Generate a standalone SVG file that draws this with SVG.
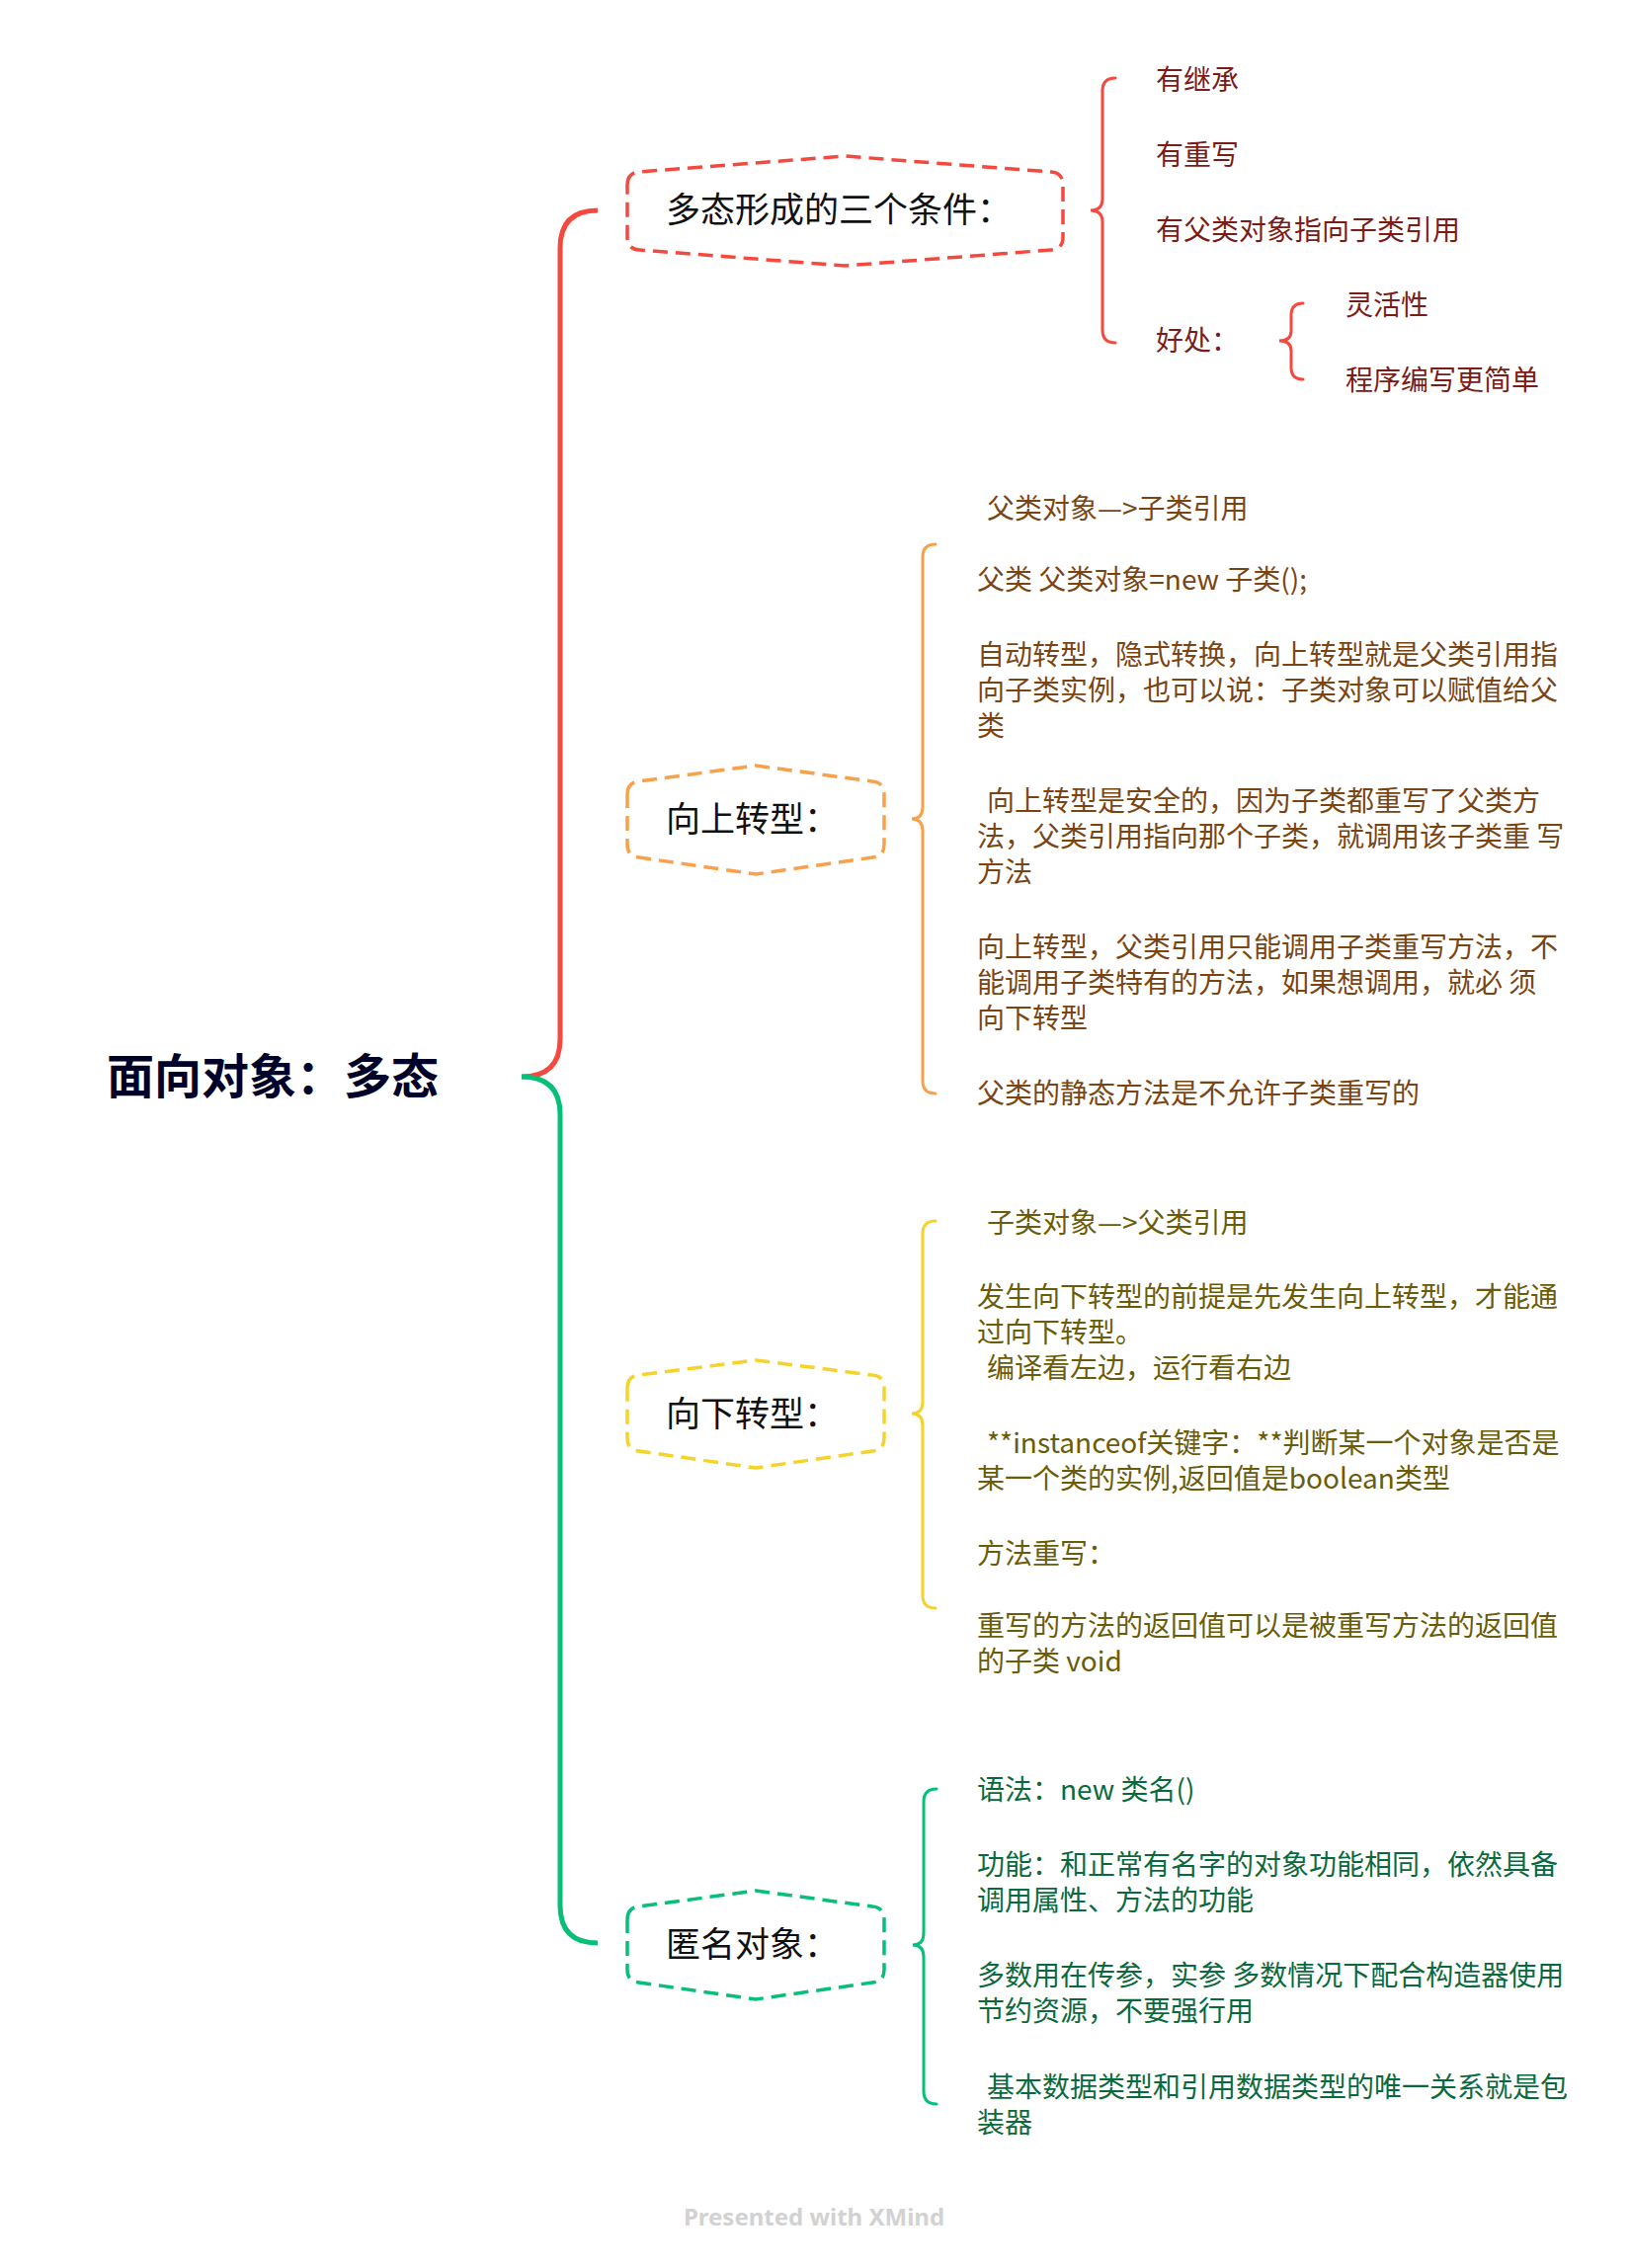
<svg xmlns="http://www.w3.org/2000/svg" width="1650" height="2296" viewBox="0 0 1650 2296">
<style>
.t{font-family:"Noto Sans CJK SC","Noto Sans",sans-serif;}
.root{font-size:48px;font-weight:700;fill:#000229;}
.nt{font-size:35px;fill:#111111;}
.s{font-size:28px;}
.cr{fill:#7A1C17;}
.co{fill:#7A4512;}
.cy{fill:#6A5C08;}
.cg{fill:#0B6A3D;}
.hex{fill:#ffffff;stroke-width:3.5;stroke-dasharray:15 8;stroke-linejoin:round;}
.br{fill:none;stroke-width:3;stroke-linecap:round;}
.conn{fill:none;stroke-width:5;}
</style>
<rect width="1650" height="2296" fill="#ffffff"/>
<g id="connectors">
<path class="conn" stroke="#F5493F" d="M528,1090 Q567,1090 567,1052 L567,251 Q567,213 605,213"/>
<path class="conn" stroke="#07BF78" d="M528,1090 Q567,1090 567,1128 L567,1929 Q567,1967 605,1967"/>
<path class="br" stroke="#F5493F" d="M1129,79 Q1116,79 1116,92 L1116,201 Q1116,213 1104,213 Q1116,213 1116,225 L1116,334 Q1116,347 1129,347"/>
<path class="br" stroke="#F5493F" d="M1319,307 Q1307,307 1307,319 L1307,335 Q1307,345 1295,345 Q1307,345 1307,355 L1307,372 Q1307,384 1319,384"/>
<path class="br" stroke="#F9A04B" d="M947,551 Q934,551 934,564 L934,817 Q934,829 923,829 Q934,829 934,841 L934,1094 Q934,1107 947,1107"/>
<path class="br" stroke="#F6D32A" d="M947,1236 Q934,1236 934,1249 L934,1419 Q934,1431 923,1431 Q934,1431 934,1443 L934,1615 Q934,1628 947,1628"/>
<path class="br" stroke="#07BF78" d="M948,1811 Q935,1811 935,1824 L935,1957 Q935,1969 924,1969 Q935,1969 935,1981 L935,2117 Q935,2130 948,2130"/>
</g>
<g id="root">
<text class="t root" x="108" y="1107">面向对象：多态</text>
</g>
<g id="node-conditions">
<path class="hex" stroke="#F5493F" d="M635,187 Q635,175 647,174 L855,158 L1064,174 Q1076,175 1076,187 L1076,240 Q1076,252 1064,253 L855,269 L647,253 Q635,252 635,240 Z"/>
<text class="t nt" x="674" y="225">多态形成的三个条件：</text>
</g>
<g id="node-conditions-children">
<text class="t s cr" x="1170" y="91">有继承</text>
<text class="t s cr" x="1170" y="167">有重写</text>
<text class="t s cr" x="1170" y="243">有父类对象指向子类引用</text>
<text class="t s cr" x="1170" y="355">好处：</text>
<text class="t s cr" x="1362" y="319">灵活性</text>
<text class="t s cr" x="1362" y="395">程序编写更简单</text>
</g>
<g id="node-upcast">
<path class="hex" stroke="#F9A04B" d="M635,804 Q635,792 647,791 L765,775 L883,791 Q895,792 895,804 L895,855 Q895,867 883,868 L765,885 L647,868 Q635,867 635,855 Z"/>
<text class="t nt" x="674" y="842">向上转型：</text>
</g>
<g id="node-upcast-children">
<text class="t s co" x="999" y="525">父类对象—&gt;子类引用</text>
<text class="t s co" x="989" y="597">父类 父类对象=new 子类();</text>
<text class="t s co" x="989" y="673">自动转型，隐式转换，向上转型就是父类引用指</text>
<text class="t s co" x="989" y="709">向子类实例，也可以说：子类对象可以赋值给父</text>
<text class="t s co" x="989" y="745">类</text>
<text class="t s co" x="999" y="821">向上转型是安全的，因为子类都重写了父类方</text>
<text class="t s co" x="989" y="857" xml:space="preserve">法，父类引用指向那个子类，就调用该子类重 写</text>
<text class="t s co" x="989" y="893">方法</text>
<text class="t s co" x="989" y="969">向上转型，父类引用只能调用子类重写方法，不</text>
<text class="t s co" x="989" y="1005" xml:space="preserve">能调用子类特有的方法，如果想调用，就必 须</text>
<text class="t s co" x="989" y="1041">向下转型</text>
<text class="t s co" x="989" y="1117">父类的静态方法是不允许子类重写的</text>
</g>
<g id="node-downcast">
<path class="hex" stroke="#F6D32A" d="M635,1405 Q635,1393 647,1392 L765,1377 L883,1392 Q895,1393 895,1405 L895,1456 Q895,1468 883,1469 L765,1486 L647,1469 Q635,1468 635,1456 Z"/>
<text class="t nt" x="674" y="1444">向下转型：</text>
</g>
<g id="node-downcast-children">
<text class="t s cy" x="999" y="1248">子类对象—&gt;父类引用</text>
<text class="t s cy" x="989" y="1323">发生向下转型的前提是先发生向上转型，才能通</text>
<text class="t s cy" x="989" y="1359">过向下转型。</text>
<text class="t s cy" x="999" y="1395">编译看左边，运行看右边</text>
<text class="t s cy" x="999" y="1471">**instanceof关键字：**判断某一个对象是否是</text>
<text class="t s cy" x="989" y="1507">某一个类的实例,返回值是boolean类型</text>
<text class="t s cy" x="989" y="1583">方法重写：</text>
<text class="t s cy" x="989" y="1656">重写的方法的返回值可以是被重写方法的返回值</text>
<text class="t s cy" x="989" y="1692">的子类 void</text>
</g>
<g id="node-anonymous">
<path class="hex" stroke="#07BF78" d="M635,1943 Q635,1931 647,1930 L765,1914 L883,1930 Q895,1931 895,1943 L895,1994 Q895,2006 883,2007 L765,2024 L647,2007 Q635,2006 635,1994 Z"/>
<text class="t nt" x="674" y="1981">匿名对象：</text>
</g>
<g id="node-anonymous-children">
<text class="t s cg" x="989" y="1822">语法：new 类名()</text>
<text class="t s cg" x="989" y="1898">功能：和正常有名字的对象功能相同，依然具备</text>
<text class="t s cg" x="989" y="1934">调用属性、方法的功能</text>
<text class="t s cg" x="989" y="2010" xml:space="preserve">多数用在传参，实参 多数情况下配合构造器使用</text>
<text class="t s cg" x="989" y="2046">节约资源，不要强行用</text>
<text class="t s cg" x="999" y="2123">基本数据类型和引用数据类型的唯一关系就是包</text>
<text class="t s cg" x="989" y="2159">装器</text>
</g>
<text x="824" y="2253" text-anchor="middle" font-family="'Noto Sans',sans-serif" font-size="24" font-weight="700" fill="#D2D2D2">Presented with XMind</text>
</svg>
